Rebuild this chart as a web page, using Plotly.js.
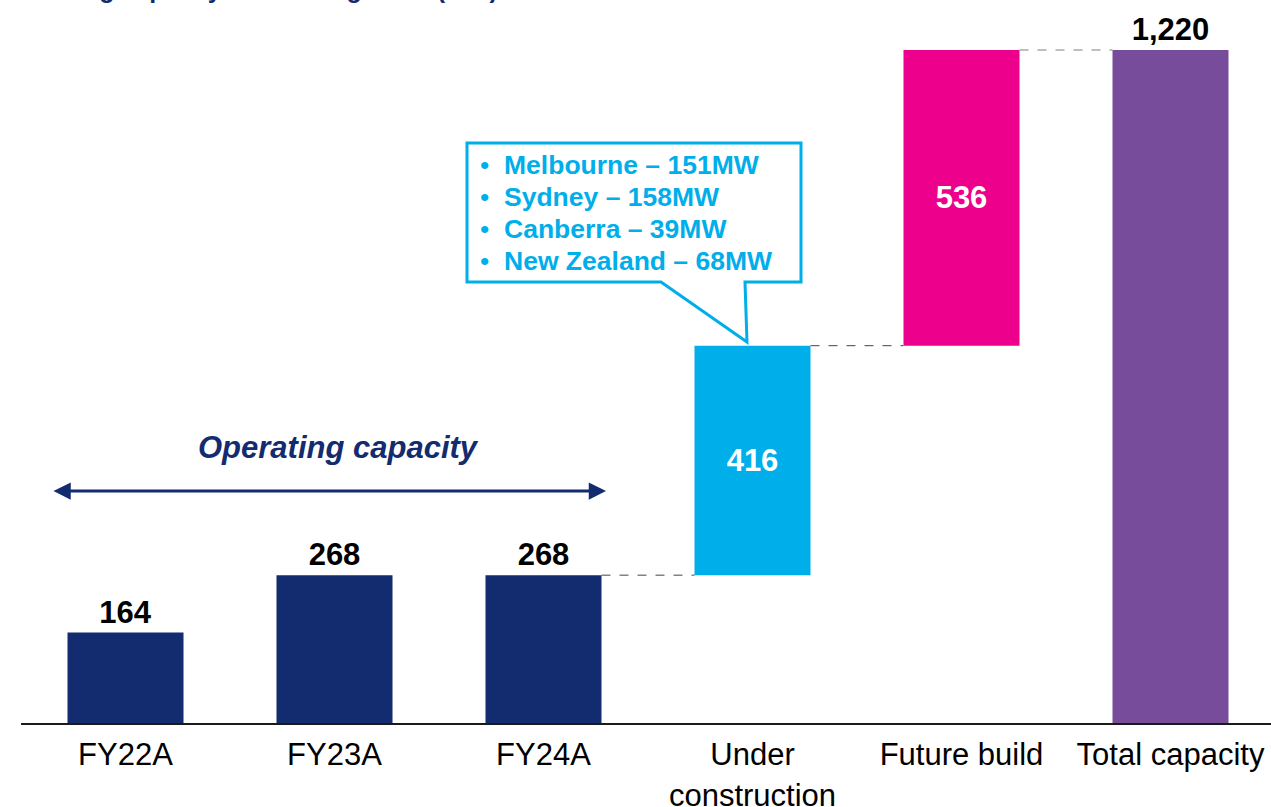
<!DOCTYPE html>
<html>
<head>
<meta charset="utf-8">
<script src="https://cdn.plot.ly/plotly-3.0.1.min.js"></script>
<style>
  html, body { margin: 0; padding: 0; background: #fff; }
  #chart { width: 1271px; height: 807px; }
</style>
</head>
<body>
<div id="chart"></div>
<script>
// ---- data ----
const categories = ["FY22A", "FY23A", "FY24A", "Under construction", "Future build", "Total capacity"];
const tickLabels = ["FY22A", "FY23A", "FY24A", "Under<br>construction", "Future build", "Total capacity"];
const values = [164, 268, 268, 416, 536, 1220];
const kinds = ["absolute", "absolute", "absolute", "delta", "delta", "total"];
const barColors = ["#132B6F", "#132B6F", "#132B6F", "#00AEEA", "#EC008C", "#774C9B"];
const calloutLines = ["Melbourne – 151MW", "Sydney – 158MW", "Canberra – 39MW", "New Zealand – 68MW"];
const bracketLabel = "Operating capacity";
const titleText = "Strong capacity for future growth (MW)";

// ---- derived bases ----
const bases = [];
let running = 0;
values.forEach((v, i) => {
  if (kinds[i] === "delta") { bases.push(running); running += v; }
  else { bases.push(0); running = v; }
});
const tops = values.map((v, i) => bases[i] + v);
const textPos = kinds.map(k => k === "delta" ? "inside" : "outside");
const textCols = kinds.map(k => k === "delta" ? "#ffffff" : "#000000");
const labels = values.map(v => v.toLocaleString("en-US"));

const FONT = "Liberation Sans, Arial, sans-serif";
const NAVY = "#132B6F";
const CYAN = "#00AEEA";

// pixel -> paper helpers (plot area: x 21..1271, y 0..723)
const L = 21, W = 1250, H = 723;
const px = x => (x - L) / W;
const py = y => (H - y) / H;

const barWidth = 0.555;
const half = barWidth / 2;

// connectors between consecutive bars where next is a delta or total
const shapes = [];
for (let i = 0; i < values.length - 1; i++) {
  const lvl = tops[i];
  if (kinds[i + 1] !== "absolute") {
    shapes.push({
      type: "line", xref: "x", yref: "y",
      x0: i + half, x1: i + 1 - half, y0: lvl, y1: lvl,
      line: { color: i + 1 === values.length - 1 ? "#7f7f7f" : "#444", width: 1, dash: "dash" }
    });
  }
}

// callout box
const pts = [[467,143],[801,143],[801,282],[745,282],[747,342],[661,282],[467,282]];
const path = "M " + pts.map(p => px(p[0]).toFixed(5) + "," + py(p[1]).toFixed(5)).join(" L ") + " Z";
shapes.push({
  type: "path", xref: "paper", yref: "paper", path: path,
  line: { color: CYAN, width: 3 }, fillcolor: "#ffffff", layer: "above"
});

const annotations = [];
calloutLines.forEach((t, i) => {
  annotations.push({
    xref: "paper", yref: "paper", x: px(478), y: py(165 + 32 * i),
    xanchor: "left", yanchor: "middle", showarrow: false,
    text: "•\u00a0\u00a0<b>" + t + "</b>",
    font: { family: FONT, size: 26.5, color: CYAN }
  });
});

// operating capacity label + double arrow
annotations.push({
  xref: "paper", yref: "paper", x: px(338), y: py(447),
  xanchor: "center", yanchor: "middle", showarrow: false,
  text: "<b><i>" + bracketLabel + "</i></b>",
  font: { family: FONT, size: 31, color: NAVY }
});
annotations.push({
  xref: "paper", yref: "paper", x: px(606), y: py(491),
  axref: "pixel", ayref: "pixel", ax: -(606 - 52), ay: 0,
  text: "", showarrow: true, arrowside: "end+start",
  arrowhead: 2, arrowsize: 1.15, arrowwidth: 3, arrowcolor: NAVY, standoff: 0, startstandoff: 0
});

// partially cut-off title at the very top
annotations.push({
  xref: "paper", yref: "paper", x: px(32), y: 1 + 11 / H,
  xanchor: "left", yanchor: "middle", showarrow: false,
  text: "<b>" + titleText + "</b>",
  font: { family: FONT, size: 25, color: NAVY }
});

const trace = {
  type: "bar",
  x: categories,
  y: values,
  base: bases,
  width: barWidth,
  marker: { color: barColors, line: { width: 0 } },
  text: labels,
  textposition: textPos,
  insidetextanchor: "middle",
  textangle: 0,
  textfont: { family: FONT, size: 31, color: textCols, weight: "bold" },
  texttemplate: "<b>%{text}</b>",
  cliponaxis: false,
  hoverinfo: "skip"
};

const layout = {
  width: 1271, height: 807,
  margin: { l: L, r: 0, t: 0, b: 807 - H },
  paper_bgcolor: "#ffffff", plot_bgcolor: "#ffffff",
  showlegend: false,
  xaxis: {
    type: "category",
    range: [-0.5, -0.5 + W / 209],
    tickvals: categories, ticktext: tickLabels,
    tickfont: { family: FONT, size: 31, color: "#000" },
    ticklabelstandoff: 3,
    showline: true, linecolor: "#1a1a1a", linewidth: 2,
    ticks: "", showgrid: false, zeroline: false, fixedrange: true
  },
  yaxis: {
    range: [0, 1220 * H / 673],
    visible: false, showgrid: false, zeroline: false, fixedrange: true
  },
  shapes: shapes,
  annotations: annotations,
  font: { family: FONT }
};

Plotly.newPlot("chart", [trace], layout, { displayModeBar: false, staticPlot: true });
</script>
</body>
</html>
